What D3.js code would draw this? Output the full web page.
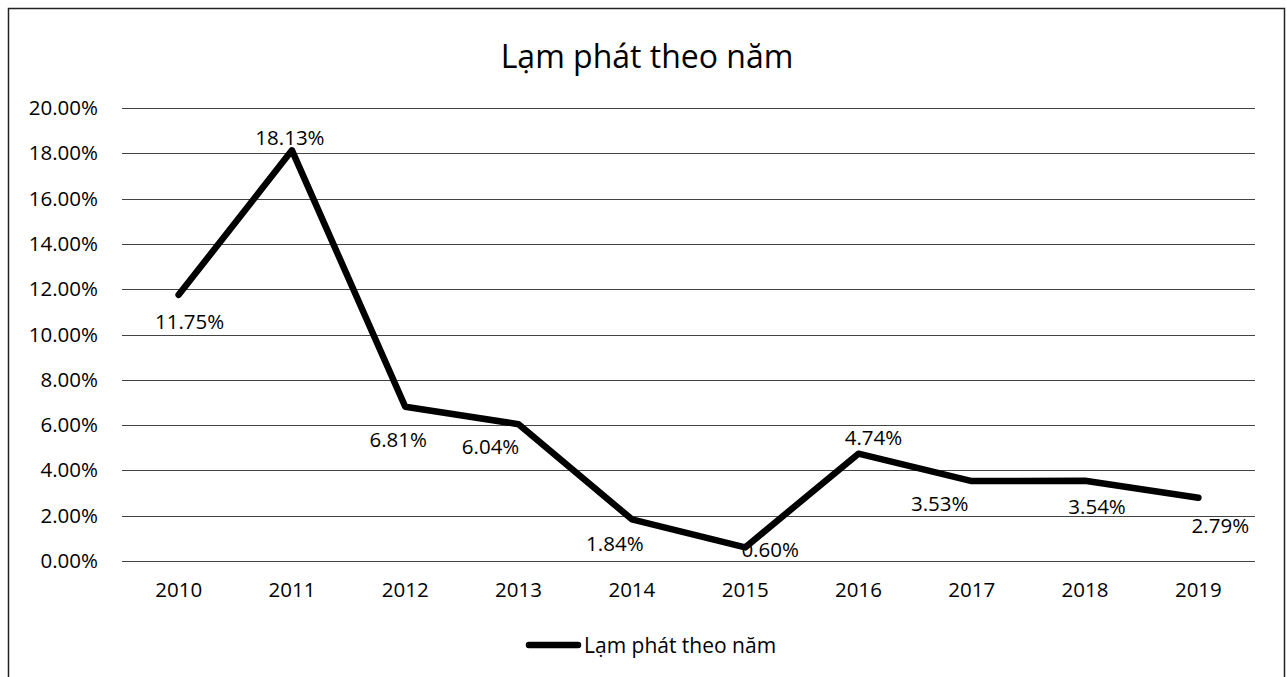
<!DOCTYPE html>
<html>
<head>
<meta charset="utf-8">
<script src="https://cdn.jsdelivr.net/npm/d3@7"></script>
<style>
  body { margin: 0; background: #fff; }
  text { font-family: "Open Sans", "Noto Sans", sans-serif; fill: #000; }
</style>
</head>
<body>
<div id="chart"></div>
<script>
const years = ["2010", "2011", "2012", "2013", "2014", "2015", "2016", "2017", "2018", "2019"];
const inflation = [11.75, 18.13, 6.81, 6.04, 1.84, 0.60, 4.74, 3.53, 3.54, 2.79];
const yTicks = [0, 2, 4, 6, 8, 10, 12, 14, 16, 18, 20];
const seriesName = "Lạm phát theo năm";
// label nudges (dx, dy) relative to each point, like the hand-placed Excel labels
const labelOffsets = [[11, 26], [-2, -13], [-7, 32], [-28, 22], [-17, 24], [25, 2], [15, -17], [-32, 22], [12, 25], [22, 27]];

const W = 1287, H = 677;
const margin = ({ top: 108, right: 32, bottom: 116, left: 122 });
const fs = "20.5px";

const svg = d3.select("#chart").append("svg")
  .attr("width", W)
  .attr("height", H);

// chart border (bottom edge falls outside the picture)
svg.append("rect")
  .attr("x", 8.5).attr("y", 8.5)
  .attr("width", W - 11).attr("height", H + 20)
  .attr("fill", "none")
  .attr("stroke", "#222")
  .attr("stroke-width", 1.5);

const x = d3.scaleBand().domain(years).range([margin.left, W - margin.right]);
const y = d3.scaleLinear().domain([0, 20]).range([H - margin.bottom, margin.top]);

// gridlines
svg.append("g")
  .selectAll("line")
  .data(yTicks)
  .join("line")
  .attr("x1", margin.left)
  .attr("x2", W - margin.right)
  .attr("y1", d => Math.round(y(d)) + 0.5)
  .attr("y2", d => Math.round(y(d)) + 0.5)
  .attr("stroke", "#444")
  .attr("stroke-width", 1);

// y axis labels
const yAxis = d3.axisLeft(y).tickValues(yTicks).tickSize(0).tickPadding(0)
  .tickFormat(d => d.toFixed(2) + "%");
svg.append("g")
  .attr("transform", `translate(${margin.left - 24},0)`)
  .call(yAxis)
  .call(g => g.select(".domain").remove())
  .selectAll("text")
  .style("font-size", fs)
  .style("font-family", "'Open Sans', sans-serif")
  .attr("fill", "#000");

// x axis labels
const xAxis = d3.axisBottom(x).tickSize(0).tickPadding(0);
svg.append("g")
  .attr("transform", `translate(0,${H - margin.bottom + 21})`)
  .call(xAxis)
  .call(g => g.select(".domain").remove())
  .selectAll("text")
  .style("font-size", fs)
  .style("font-family", "'Open Sans', sans-serif")
  .attr("fill", "#000");

// the series line
const line = d3.line()
  .x((d, i) => x(years[i]) + x.bandwidth() / 2)
  .y(d => y(d));

svg.append("path")
  .datum(inflation)
  .attr("fill", "none")
  .attr("stroke", "#000")
  .attr("stroke-width", 6.5)
  .attr("stroke-linejoin", "round")
  .attr("stroke-linecap", "round")
  .attr("d", line);

// data labels
svg.append("g")
  .selectAll("text")
  .data(inflation)
  .join("text")
  .attr("x", (d, i) => x(years[i]) + x.bandwidth() / 2 + labelOffsets[i][0])
  .attr("y", (d, i) => y(d) + labelOffsets[i][1])
  .attr("text-anchor", "middle")
  .attr("dominant-baseline", "central")
  .style("font-size", fs)
  .text(d => d.toFixed(2) + "%");

// title
svg.append("text")
  .attr("x", 647)
  .attr("y", 68)
  .attr("text-anchor", "middle")
  .style("font-size", "32px")
  .text(seriesName);

// legend
const legend = svg.append("g").attr("transform", `translate(527,645)`);
legend.append("line")
  .attr("x1", 2).attr("x2", 51)
  .attr("stroke", "#000")
  .attr("stroke-width", 6.5)
  .attr("stroke-linecap", "round");
legend.append("text")
  .attr("x", 57)
  .attr("y", 0)
  .attr("dominant-baseline", "central")
  .style("font-size", "21px")
  .text(seriesName);
</script>
</body>
</html>
